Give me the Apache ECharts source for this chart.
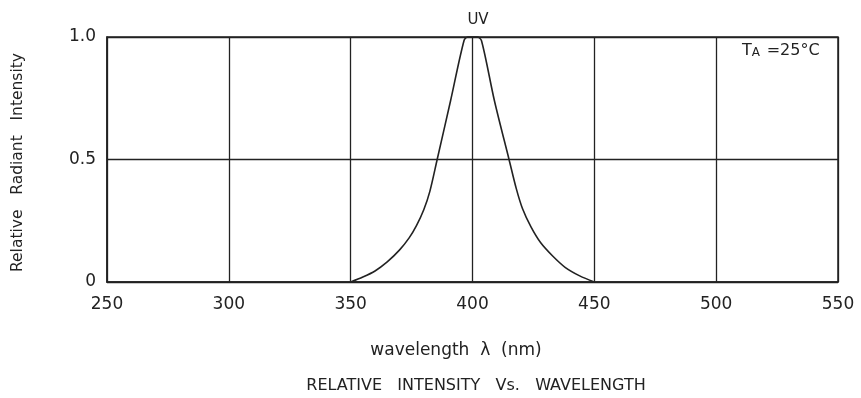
<!DOCTYPE html>
<html>
<head>
<meta charset="utf-8">
<script src="https://cdn.jsdelivr.net/npm/echarts@6/dist/echarts.min.js"></script>
<style>
  html, body { margin: 0; padding: 0; background: #fff; }
  #chart { width: 861px; height: 398px; }
</style>
</head>
<body>
<div id="chart"></div>
<script>
// Emission spectrum of the UV LED (wavelength in nm, relative intensity)
const wavelength = [350, 355, 360, 365, 370, 374, 377, 380, 382.5, 385.5, 391, 396.5, 398, 400, 402, 403.7, 409, 415, 418, 420.5, 424, 428, 433, 438, 444, 450];
const intensity  = [0, 0.02, 0.045, 0.082, 0.13, 0.18, 0.23, 0.295, 0.37, 0.50, 0.74, 0.985, 1.0, 1.0, 1.0, 0.985, 0.74, 0.50, 0.38, 0.30, 0.225, 0.16, 0.105, 0.06, 0.025, 0];
const xTicks = [250, 300, 350, 400, 450, 500, 550];
const yTickLabels = { 0: '0', 0.5: '0.5', 1: '1.0' };

const FONT = '"DejaVu Sans", Verdana, sans-serif';
const INK = '#222';

const chart = echarts.init(document.getElementById('chart'), null, { renderer: 'canvas' });
chart.setOption({
  animation: false,
  backgroundColor: '#fff',
  grid: {
    left: 107, right: 23, top: 37, bottom: 116,
    show: true, borderColor: INK, borderWidth: 1.5
  },
  title: [
    { text: 'UV', left: 473, top: 8, textAlign: 'center',
      textStyle: { fontFamily: FONT, fontSize: 15, fontWeight: 'normal', color: INK } },
    { text: 'RELATIVE   INTENSITY   Vs.   WAVELENGTH', left: 471, top: 373, textAlign: 'center',
      textStyle: { fontFamily: FONT, fontSize: 16, fontWeight: 'normal', color: INK } }
  ],
  graphic: [{
    // ambient temperature note
    type: 'text', left: 742, top: 43,
    style: {
      text: '{t|T}{a|A}  {t|=25°C}',
      rich: {
        t: { fontFamily: FONT, fontSize: 16, fill: INK },
        a: { fontFamily: FONT, fontSize: 12, fill: INK, verticalAlign: 'bottom' }
      }
    }
  }, {
    // x-axis title
    type: 'text', x: 456, y: 351,
    style: {
      text: 'wavelength  λ  (nm)',
      fontFamily: FONT, fontSize: 17, fill: INK,
      align: 'center', verticalAlign: 'middle'
    }
  }],
  xAxis: {
    type: 'value', min: xTicks[0], max: xTicks[xTicks.length - 1], interval: 50,
    axisLine: { show: true, lineStyle: { color: INK, width: 1.5 } },
    axisTick: { show: false },
    axisLabel: { fontFamily: FONT, fontSize: 17, color: INK, margin: 14 },
    splitLine: { show: true, lineStyle: { color: INK, width: 1.3 } }
  },
  yAxis: {
    type: 'value', min: 0, max: 1, interval: 0.5,
    name: 'Relative   Radiant   Intensity', nameLocation: 'middle', nameGap: 81, nameRotate: 90,
    nameTextStyle: { fontFamily: FONT, fontSize: 15.5, color: INK, padding: [0, 6, 0, 0] },
    axisLine: { show: true, lineStyle: { color: INK, width: 1.5 } },
    axisTick: { show: false },
    axisLabel: { fontFamily: FONT, fontSize: 17, color: INK, margin: 11,
      formatter: v => yTickLabels[v] !== undefined ? yTickLabels[v] : String(v) },
    splitLine: { show: true, lineStyle: { color: INK, width: 1.3 } }
  },
  series: [{
    type: 'line',
    data: wavelength.map((w, i) => [w, intensity[i]]),
    smooth: 0.3,
    showSymbol: false,
    lineStyle: { color: INK, width: 1.6 },
    clip: false
  }]
});
</script>
</body>
</html>
